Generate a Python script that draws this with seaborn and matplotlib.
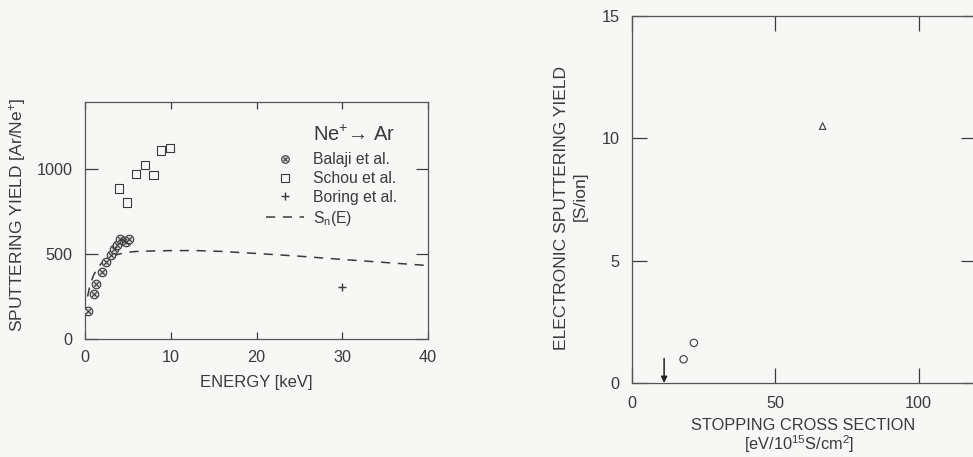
import numpy as np
import pandas as pd
import matplotlib
matplotlib.use("Agg")
import matplotlib.pyplot as plt
from matplotlib.lines import Line2D
import seaborn as sns

# --- Ne+ -> Ar sputtering yield vs energy ---
balaji_E = [0.4, 1.0, 1.3, 2.0, 2.5, 3.0, 3.4, 3.7, 4.1, 4.5, 4.8, 5.1]
balaji_Y = [165, 265, 322, 396, 455, 492, 528, 550, 588, 576, 572, 590]

schou_E = [4.0, 4.9, 5.95, 7.0, 8.0, 8.9, 9.9]
schou_Y = [886, 802, 969, 1024, 963, 1108, 1122]

boring_E = [30.0]
boring_Y = [308]

sn_E = [0.3, 0.6, 1.0, 1.5, 2.0, 3.0, 4.0, 5.0, 6.0, 8.0, 10.0, 13.0, 16.0,
        20.0, 25.0, 30.0, 35.0, 40.0]
sn_Y = [250, 320, 375, 420, 450, 485, 500, 510, 515, 518, 520, 520, 515,
        503, 487, 468, 450, 432]

energy_ticks = [0, 10, 20, 30, 40]
yield_ticks = [0, 500, 1000]

# --- electronic sputtering yield vs stopping cross section ---
circ_S = [18.0, 21.6]
circ_Y = [0.97, 1.64]
tri_S = [66.5]
tri_Y = [10.5]
arrow_S = [11.2]
arrow_Y = [1.0]

stop_ticks = [0, 50, 100]
elec_ticks = [0, 5, 10, 15]

sns.set_theme(style="ticks")
bg = "#f7f7f5"
ink = "#3a3a3a"
plt.rcParams["font.family"] = ["Liberation Sans", "DejaVu Sans"]
plt.rcParams.update({
    "mathtext.fontset": "custom",
    "mathtext.rm": "Liberation Sans",
    "mathtext.it": "Liberation Sans:italic",
    "mathtext.bf": "Liberation Sans:bold",
    "mathtext.default": "regular",
    "text.color": ink,
    "axes.labelcolor": ink,
    "xtick.color": ink,
    "ytick.color": ink,
    "axes.edgecolor": "#555555",
})

W, H = 973, 457
fig = plt.figure(figsize=(W / 100, H / 100), dpi=100, facecolor=bg)


def px_axes(x0, x1, ytop, ybot):
    return fig.add_axes([x0 / W, 1 - ybot / H, (x1 - x0) / W, (ybot - ytop) / H])


def px_text(x, y, s, **kw):
    fig.text(x / W, 1 - y / H, s, ha="center", va="center", color=ink, **kw)


# ---------------- left panel ----------------
ax1 = px_axes(85, 428, 102, 339)
ax1.set_facecolor(bg)

df_sn = pd.DataFrame({"E": sn_E, "Y": sn_Y})
sns.lineplot(data=df_sn, x="E", y="Y", ax=ax1, color=ink, lw=1.1,
             linestyle=(0, (6, 5)), legend=False)

df_b = pd.DataFrame({"E": balaji_E, "Y": balaji_Y})
sns.scatterplot(data=df_b, x="E", y="Y", ax=ax1, marker="o", s=38,
                facecolor="#d8d8d8", edgecolor=ink, linewidth=0.8, zorder=3)
sns.scatterplot(data=df_b, x="E", y="Y", ax=ax1, marker="x", s=14,
                color=ink, linewidth=0.8, zorder=4)

df_s = pd.DataFrame({"E": schou_E, "Y": schou_Y})
sns.scatterplot(data=df_s, x="E", y="Y", ax=ax1, marker="s", s=36,
                facecolor="none", edgecolor=ink, linewidth=0.8, zorder=3)

df_bo = pd.DataFrame({"E": boring_E, "Y": boring_Y})
sns.scatterplot(data=df_bo, x="E", y="Y", ax=ax1, marker="+", s=40,
                color=ink, linewidth=1.0, zorder=3)

ax1.set_xlim(0, 40)
ax1.set_ylim(0, 1394)
ax1.set_xticks(energy_ticks)
ax1.set_yticks(yield_ticks)
ax1.set_xlabel("ENERGY [keV]", fontsize=12, labelpad=7)
ax1.set_ylabel("")
ax1.tick_params(axis="x", direction="in", length=5, width=0.9, top=True,
                labelsize=11.7, pad=8)
ax1.tick_params(axis="y", direction="in", length=9, width=0.9, right=True,
                labelsize=11.7, pad=9)
for sp in ax1.spines.values():
    sp.set_linewidth(0.9)
    sp.set_visible(True)
px_text(18, 215, "SPUTTERING YIELD [Ar/Ne$^{+}$]", rotation=90, fontsize=12.5)

ax1.text(0.665, 0.862, "Ne$^{+}$→ Ar", transform=ax1.transAxes,
         fontsize=14.5, va="center", ha="left", color=ink)

h_b = (Line2D([], [], marker="o", ls="none", ms=5.5, mfc="#d8d8d8",
              mec=ink, mew=0.8),
       Line2D([], [], marker="x", ls="none", ms=3.5, color=ink, mew=0.8))
h_s = Line2D([], [], marker="s", ls="none", ms=5.5, mfc="none", mec=ink, mew=0.8)
h_bo = Line2D([], [], marker="+", ls="none", ms=6, color=ink, mew=1.0)
h_sn = Line2D([], [], color=ink, lw=1.1, linestyle=(0, (6, 5)))
leg = ax1.legend([h_b, h_s, h_bo, h_sn],
                 ["Balaji et al.", "Schou et al.", "Boring et al.", "S$_n$(E)"],
                 loc="upper left", bbox_to_anchor=(0.51, 0.815), frameon=False,
                 fontsize=11.3, handlelength=2.4, handletextpad=0.55,
                 labelspacing=0.25, borderaxespad=0)
for t in leg.get_texts():
    t.set_color(ink)

# ---------------- right panel ----------------
ax2 = px_axes(632, 976, 16, 383)
ax2.set_facecolor(bg)

df_c = pd.DataFrame({"S": circ_S, "Y": circ_Y})
sns.scatterplot(data=df_c, x="S", y="Y", ax=ax2, marker="o", s=28,
                facecolor="none", edgecolor=ink, linewidth=0.8)
df_t = pd.DataFrame({"S": tri_S, "Y": tri_Y})
sns.scatterplot(data=df_t, x="S", y="Y", ax=ax2, marker="^", s=22,
                facecolor="none", edgecolor=ink, linewidth=0.8)
for xs, ys in zip(arrow_S, arrow_Y):
    ax2.annotate("", xy=(xs, 0), xytext=(xs, ys),
                 arrowprops=dict(arrowstyle="-|>", color="#222222", lw=1.1,
                                 mutation_scale=9, shrinkA=0, shrinkB=0))

ax2.set_xlim(0, 120)
ax2.set_ylim(0, 15)
ax2.set_xticks(stop_ticks)
ax2.set_yticks(elec_ticks)
ax2.set_xlabel("")
ax2.set_ylabel("")
ax2.tick_params(axis="both", direction="in", length=11, width=0.9, top=True,
                right=True, labelsize=11.7, pad=9)
for sp in ax2.spines.values():
    sp.set_linewidth(0.9)
    sp.set_visible(True)
px_text(561, 208, "ELECTRONIC SPUTTERING YIELD", rotation=90, fontsize=12.6)
px_text(580, 196, "[S/ion]", rotation=90, fontsize=12.6)
px_text(803, 425, "STOPPING CROSS SECTION", fontsize=11.8)
px_text(799, 444, "[eV/10$^{15}$S/cm$^{2}$]", fontsize=11.8)

fig.savefig("out.png", dpi=100, facecolor=bg)
